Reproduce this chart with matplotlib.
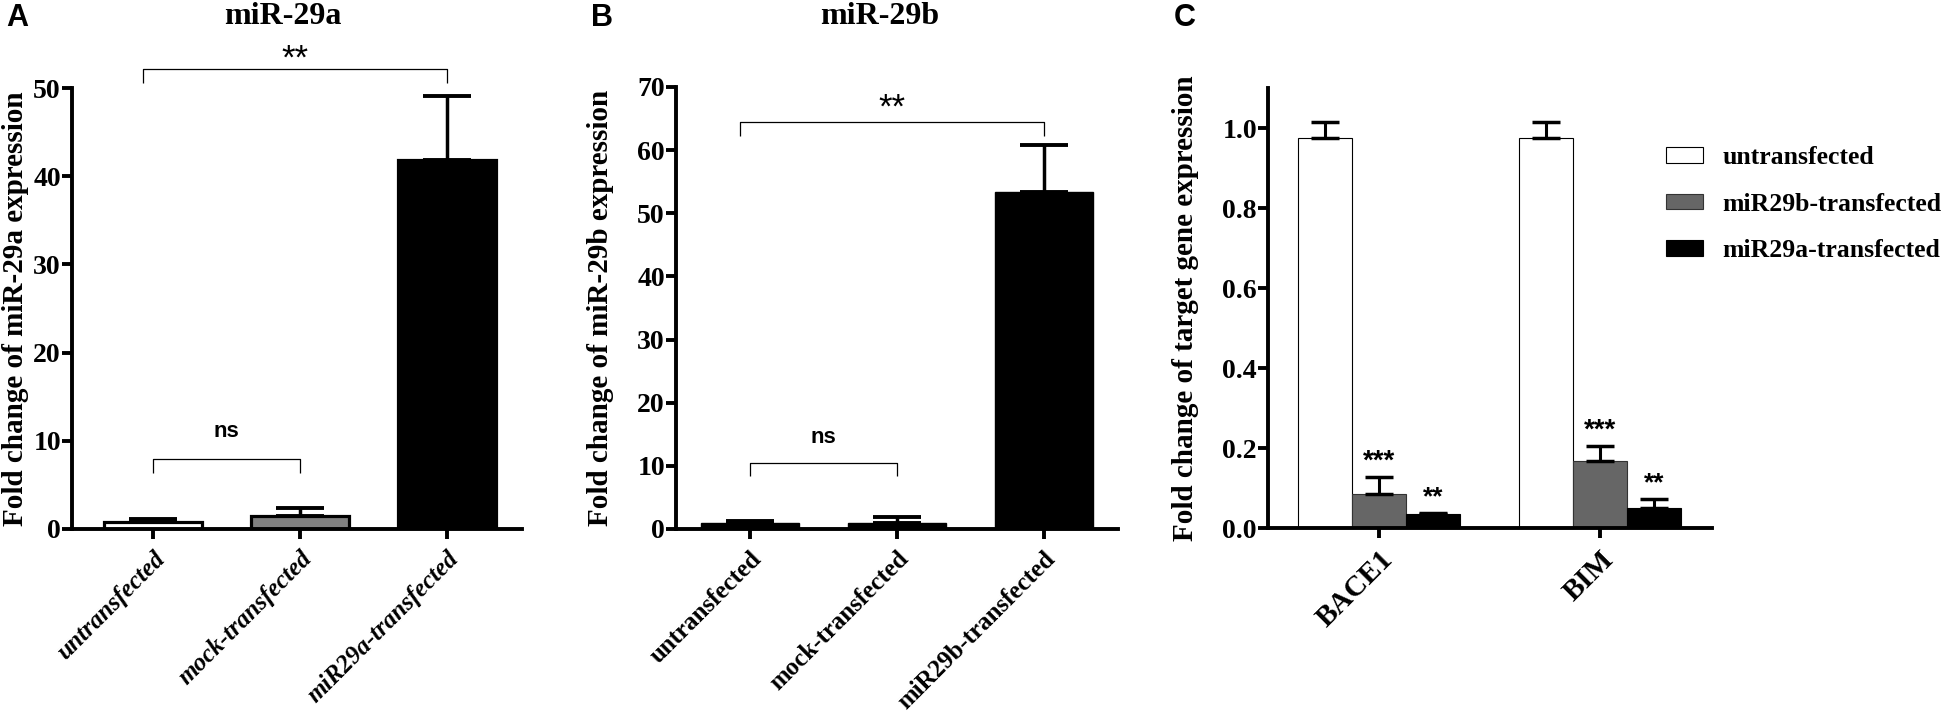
import numpy as np
import matplotlib
matplotlib.use('Agg')
import matplotlib.pyplot as plt
from matplotlib.patches import Patch

# ---- data ----
a_groups = ['untransfected', 'mock-transfected', 'miR29a-transfected']
a_mean = [0.83, 1.47, 41.8]
a_err = [0.30, 0.91, 7.3]

b_groups = ['untransfected', 'mock-transfected', 'miR29b-transfected']
b_mean = [0.9, 0.9, 53.4]
b_err = [0.4, 1.0, 7.4]

c_genes = ['BACE1', 'BIM']
c_series = ['untransfected', 'miR29b-transfected', 'miR29a-transfected']
c_untr = [0.975, 0.975]
c_untr_err = [0.041, 0.041]
c_29b = [0.086, 0.168]
c_29b_err = [0.041, 0.036]
c_29a = [0.035, 0.051]
c_29a_err = [0.003, 0.022]
c_stars_29b = ['***', '***']
c_stars_29a = ['**', '**']

W, H = 1950, 716
SERIF = 'Liberation Serif'
SANS = 'Liberation Sans'

plt.rcParams['font.family'] = SERIF
plt.rcParams['font.weight'] = 'bold'

fig = plt.figure(figsize=(W / 100, H / 100), dpi=100)


def px_axes(left, top, right, bottom):
    return fig.add_axes([left / W, 1 - bottom / H, (right - left) / W, (bottom - top) / H])


def style(ax):
    for s in ['top', 'right']:
        ax.spines[s].set_visible(False)
    for s in ['left', 'bottom']:
        ax.spines[s].set_linewidth(2.8)
    ax.tick_params(axis='both', width=2.8, length=7, direction='out')
    ax.tick_params(axis='y', labelsize=20, pad=1)
    ax.tick_params(axis='x', pad=6)


def bracket(ax, x0, x1, y, leg, label, ty, fs, weight='normal'):
    ax.plot([x0, x0, x1, x1], [y - leg, y, y, y - leg], color='black', lw=0.9,
            clip_on=False, solid_capstyle='butt')
    ax.text((x0 + x1) / 2, ty, label, ha='center', va='center', family=SANS,
            fontsize=fs, fontweight=weight, clip_on=False)


# ---------------- panel A ----------------
axA = px_axes(72, 88, 522, 529)
xa = np.arange(len(a_groups))
axA.bar(xa, a_mean, width=0.667, color=['white', '#808080', 'black'],
        edgecolor='black', linewidth=2.3, zorder=2)
axA.errorbar(xa, a_mean, yerr=[np.zeros(3), a_err], fmt='none', ecolor='black',
             elinewidth=2.5, capsize=17, capthick=2.8, zorder=3)
axA.set_xlim(-0.55, 2.51)
axA.set_ylim(0, 50)
axA.set_yticks([0, 10, 20, 30, 40, 50])
axA.set_xticks(xa)
axA.set_xticklabels(a_groups, rotation=45, ha='right', rotation_mode='anchor',
                    fontsize=18, fontstyle='italic', fontweight='bold')
style(axA)
axA.set_ylabel('Fold change of miR-29a expression', fontsize=21, fontweight='bold')
axA.yaxis.set_label_coords(-0.096, 0.5)
bracket(axA, -0.07, 2.0, 52.2, 1.6, '**', 53.3, 25)
bracket(axA, 0.0, 1.0, 7.9, 1.6, 'ns', 11.0, 16, 'bold')

# ---------------- panel B ----------------
axB = px_axes(676, 87, 1118, 529)
xb = np.arange(len(b_groups))
axB.bar(xb, b_mean, width=0.667, color='black', edgecolor='black', linewidth=1, zorder=2)
axB.errorbar(xb, b_mean, yerr=[np.zeros(3), b_err], fmt='none', ecolor='black',
             elinewidth=2.5, capsize=17, capthick=2.8, zorder=3)
axB.set_xlim(-0.503, 2.503)
axB.set_ylim(0, 70)
axB.set_yticks(np.arange(0, 71, 10))
axB.set_xticks(xb)
axB.set_xticklabels(b_groups, rotation=45, ha='right', rotation_mode='anchor',
                    fontsize=18, fontweight='bold')
style(axB)
axB.set_ylabel('Fold change of miR-29b expression', fontsize=21, fontweight='bold')
axB.yaxis.set_label_coords(-0.14, 0.5)
bracket(axB, -0.07, 2.0, 64.5, 2.2, '**', 66.7, 25)
bracket(axB, 0.0, 1.0, 10.5, 2.1, 'ns', 14.5, 16, 'bold')

# ---------------- panel C ----------------
axC = px_axes(1268, 88, 1712, 528)
xc = np.arange(len(c_genes))
w = 0.245
series = [(c_untr, c_untr_err, 'white', 'black'),
          (c_29b, c_29b_err, '#666666', '#333333'),
          (c_29a, c_29a_err, 'black', 'black')]
for i, (vals, errs, col, edge) in enumerate(series):
    pos = xc + (i - 1) * w
    axC.bar(pos, vals, width=w, color=col, edgecolor=edge, linewidth=0.8, zorder=2)
    axC.errorbar(pos, vals, yerr=[np.zeros(len(vals)), errs], fmt='none', ecolor='black',
                 elinewidth=2.2, capsize=10, capthick=2.5, zorder=3)
for k in range(len(c_genes)):
    axC.text(xc[k], c_29b[k] + c_29b_err[k] + 0.04, c_stars_29b[k], ha='center', va='center',
             family=SANS, fontsize=20)
    axC.text(xc[k] + w, c_29a[k] + c_29a_err[k] + 0.038, c_stars_29a[k], ha='center', va='center',
             family=SANS, fontsize=19)
axC.set_xlim(-0.502, 1.507)
axC.set_ylim(0, 1.1)
axC.set_yticks([0.0, 0.2, 0.4, 0.6, 0.8, 1.0])
axC.set_yticklabels(['0.0', '0.2', '0.4', '0.6', '0.8', '1.0'])
axC.set_xticks(xc)
axC.set_xticklabels(c_genes, rotation=45, ha='right', rotation_mode='anchor',
                    fontsize=21, fontweight='bold')
style(axC)
axC.set_ylabel('Fold change of target gene expression', fontsize=21, fontweight='bold')
axC.yaxis.set_label_coords(-0.155, 0.5)

handles = [Patch(facecolor='white', edgecolor='black', linewidth=0.8),
           Patch(facecolor='#666666', edgecolor='#333333', linewidth=0.8),
           Patch(facecolor='black', edgecolor='black', linewidth=0.8)]
fig.legend(handles, c_series, loc='upper left', bbox_to_anchor=(1666 / W, 1 - 146 / H),
           frameon=False, prop={'family': SERIF, 'weight': 'bold', 'size': 18.5},
           handlelength=1.44, handleheight=0.55, handletextpad=0.75, labelspacing=0.92,
           borderaxespad=0, borderpad=0)

# ---- titles and panel letters ----
fig.text(283 / W, 1 - 16 / H, 'miR-29a', ha='center', va='center', fontsize=23, fontweight='bold')
fig.text(880 / W, 1 - 16 / H, 'miR-29b', ha='center', va='center', fontsize=23, fontweight='bold')
for letter, x in [('A', 17), ('B', 602), ('C', 1185)]:
    fig.text(x / W, 1 - 18 / H, letter, ha='center', va='center', family=SANS,
             fontsize=22, fontweight='bold')

fig.savefig('out.png', dpi=100)
